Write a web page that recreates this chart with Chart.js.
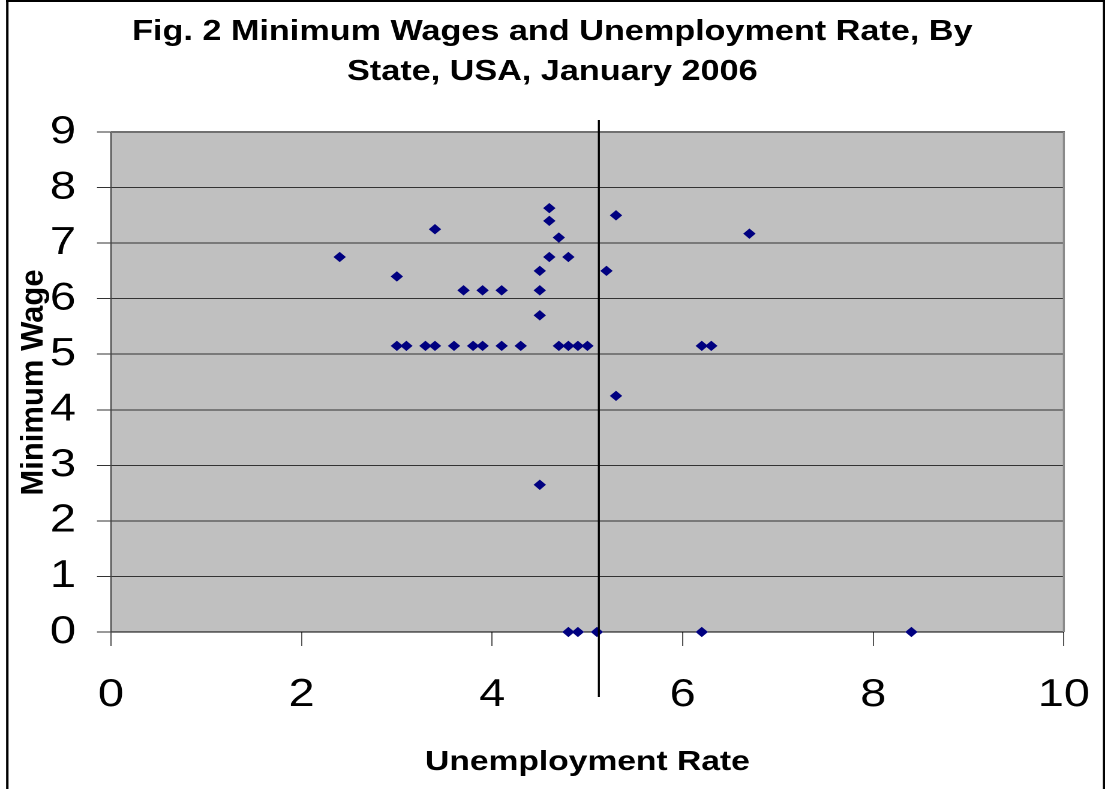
<!DOCTYPE html>
<html>
<head>
<meta charset="utf-8">
<title>Minimum Wages and Unemployment Rate, By State, USA, January 2006</title>
<script src="https://cdn.jsdelivr.net/npm/chart.js@4/dist/chart.umd.min.js"></script>
<style>
  html, body { margin: 0; padding: 0; background: #ffffff; overflow: hidden; }
  #stage { width: 921px; height: 789px; transform-origin: 0 0; }
  canvas { display: block; }
</style>
</head>
<body>
<div id="stage"><canvas id="chart" width="921" height="789"></canvas></div>
<script>
// Unemployment rate (%) by state, January 2006
const unemploymentRate = [
  2.4, 3.0, 3.4, 3.7, 3.9, 4.1, 4.5, 4.5, 4.5, 4.6, 4.6, 4.7, 4.6, 4.8, 5.2, 5.3,
  3.0, 3.1, 3.3, 3.4, 3.6, 3.8, 3.9, 4.1, 4.3, 4.7, 4.8, 4.9, 5.0, 6.2, 6.3,
  6.7, 5.3, 4.5,
  4.8, 4.9, 5.1, 6.2, 8.4
];
// State minimum wage ($/hour); 0 = no state minimum wage
const minimumWage = [
  6.75, 6.40, 7.25, 6.15, 6.15, 6.15, 6.50, 6.15, 5.70, 7.63, 7.40, 7.10, 6.75, 6.75, 6.50, 7.50,
  5.15, 5.15, 5.15, 5.15, 5.15, 5.15, 5.15, 5.15, 5.15, 5.15, 5.15, 5.15, 5.15, 5.15, 5.15,
  7.17, 4.25, 2.65,
  0, 0, 0, 0, 0
];
// Average unemployment rate, marked by the vertical line
const meanUnemployment = 5.12;

const xTicks = [0, 2, 4, 6, 8, 10];
const yTicks = [0, 1, 2, 3, 4, 5, 6, 7, 8, 9];

const titleLines = ['Fig. 2 Minimum Wages and Unemployment Rate, By', 'State, USA, January 2006'];
const xTitle = 'Unemployment Rate';
const yTitle = 'Minimum Wage';

// The figure is laid out 921px wide and shown stretched to 1105px.
const BASE_W = 921, BASE_H = 789, OUT_W = 1105;
const S = OUT_W / BASE_W;
document.getElementById('stage').style.transform = 'scaleX(' + S + ')';

const FONT = '"Liberation Sans", Arial, Helvetica, sans-serif';

const points = unemploymentRate.map((u, i) => ({ x: u, y: minimumWage[i] }));

const decor = {
  id: 'decor',
  beforeDraw(chart) {
    const { ctx, chartArea: a } = chart;
    ctx.save();
    ctx.fillStyle = '#c0c0c0';
    ctx.fillRect(a.left, a.top, a.right - a.left, a.bottom - a.top);
    ctx.restore();
  },
  afterDraw(chart) {
    const { ctx, chartArea: a, scales } = chart;
    ctx.save();
    // plot-area top and right edges
    ctx.strokeStyle = '#707070';
    ctx.lineWidth = 2;
    ctx.beginPath();
    ctx.moveTo(a.left, a.top);
    ctx.lineTo(a.right + 1 / S, a.top);
    ctx.stroke();
    ctx.strokeStyle = '#8a8a8a';
    ctx.lineWidth = 2 / S;
    ctx.beginPath();
    ctx.moveTo(a.right, a.top);
    ctx.lineTo(a.right, a.bottom);
    ctx.stroke();

    // vertical line at the average unemployment rate
    const mx = scales.x.getPixelForValue(meanUnemployment);
    ctx.strokeStyle = '#000000';
    ctx.lineWidth = 2 / S;
    ctx.beginPath();
    ctx.moveTo(mx, a.top - 12);
    ctx.lineTo(mx, a.bottom + 65);
    ctx.stroke();

    // outer frame
    ctx.strokeStyle = '#000000';
    ctx.lineWidth = 2.4 / S;
    ctx.beginPath();
    ctx.moveTo(7.3 / S, BASE_H);
    ctx.lineTo(7.3 / S, 1);
    ctx.lineTo(BASE_W - 0.9 / S, 1);
    ctx.lineTo(BASE_W - 0.9 / S, BASE_H);
    ctx.stroke();
    ctx.lineWidth = 2;
    ctx.beginPath();
    ctx.moveTo(6 / S, 1);
    ctx.lineTo(BASE_W, 1);
    ctx.stroke();

    // vertical axis title, kept at its natural proportions
    ctx.translate(34 / S, 382.5);
    ctx.scale(1 / S, 1);
    ctx.rotate(-Math.PI / 2);
    ctx.font = 'bold 31px ' + FONT;
    ctx.fillStyle = '#000000';
    ctx.textAlign = 'center';
    ctx.textBaseline = 'middle';
    ctx.fillText(yTitle, 0, 0);
    ctx.restore();
  }
};

new Chart(document.getElementById('chart'), {
  type: 'scatter',
  data: {
    datasets: [{
      label: yTitle,
      data: points,
      pointStyle: 'rectRot',
      pointRadius: 4.6,
      pointBorderWidth: 0.8,
      backgroundColor: '#000080',
      borderColor: '#000080',
      clip: false
    }]
  },
  options: {
    responsive: false,
    devicePixelRatio: 2,
    animation: false,
    events: [],
    layout: { padding: { left: 34, right: 34.3, top: 0, bottom: 0 } },
    plugins: {
      legend: { display: false },
      tooltip: { enabled: false },
      title: {
        display: true,
        text: titleLines,
        color: '#000000',
        font: { family: FONT, size: 28.5, weight: 'bold', lineHeight: 40 / 28.5 },
        padding: { top: 12, bottom: 40 }
      }
    },
    scales: {
      x: {
        type: 'linear',
        min: xTicks[0],
        max: xTicks[xTicks.length - 1],
        afterBuildTicks(scale) { scale.ticks = xTicks.map(v => ({ value: v })); },
        ticks: {
          color: '#000000',
          font: { family: FONT, size: 39 },
          padding: 26,
          maxRotation: 0,
          autoSkip: false
        },
        grid: { drawOnChartArea: false, drawTicks: true, tickLength: 14, tickColor: '#555555' },
        border: { display: true, color: '#000000', width: 1 },
        title: {
          display: true,
          text: xTitle,
          color: '#000000',
          font: { family: FONT, size: 28, weight: 'bold', lineHeight: 1.2 },
          padding: { top: 0, bottom: 10 }
        },
        afterFit(scale) {
          scale.height = 157;
          scale.paddingLeft = 0;
          scale.paddingRight = 0;
        }
      },
      y: {
        type: 'linear',
        min: yTicks[0],
        max: yTicks[yTicks.length - 1],
        afterBuildTicks(scale) { scale.ticks = yTicks.map(v => ({ value: v })); },
        ticks: {
          color: '#000000',
          font: { family: FONT, size: 39 },
          padding: 17.5,
          autoSkip: false
        },
        grid: { color: '#333333', lineWidth: 1, drawTicks: true, tickLength: 14 / S, tickColor: '#333333' },
        border: { display: true, color: '#444444', width: 1 },
        afterFit(scale) { scale.width = 58.5; }
      }
    }
  },
  plugins: [decor]
});
</script>
</body>
</html>
